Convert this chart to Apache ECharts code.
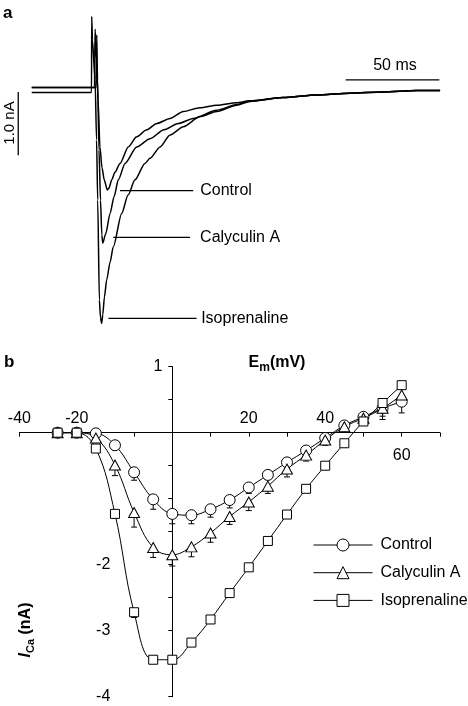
<!DOCTYPE html>
<html><head><meta charset="utf-8">
<script src="https://cdn.jsdelivr.net/npm/echarts/dist/echarts.min.js"></script>
<style>html,body{margin:0;padding:0;background:#fff}#c{width:468px;height:706px}</style>
</head><body><div id="c"></div>
<script>
// ---------- Panel a: current traces (time in ms, current in nA) ----------
const ctrlT = [-32, 1.5, 1.8, 2.6, 3.4, 4.4, 5.5, 6.7, 8.3, 9.2, 10.7, 12.4, 15.1, 19.5, 24.0, 29.4, 34.7, 41.8, 48.9, 57.8, 66.7, 77.4, 84.5, 102.1, 120.1, 137.8, 155.4, 173.4, 185.9];
const ctrlI = [0.04, 0.04, 0.96, 0.47, -0.16, -0.90, -1.23, -1.42, -1.58, -1.55, -1.42, -1.30, -1.16, -0.90, -0.74, -0.63, -0.53, -0.45, -0.34, -0.28, -0.24, -0.20, -0.17, -0.12, -0.08, -0.05, -0.03, -0.01, -0.01];
const calyT = [-32, 2.4, 2.7, 3.1, 3.9, 4.7, 5.4, 5.9, 7.5, 9.8, 11.9, 14.2, 17.8, 24.0, 31.1, 38.6, 46.2, 54.2, 66.7, 77.4, 84.5, 102.1, 120.1, 137.8, 155.4, 173.4, 185.9];
const calyI = [0.04, 0.04, 0.87, 0.16, -0.95, -1.74, -2.29, -2.42, -2.27, -1.95, -1.69, -1.42, -1.16, -0.90, -0.77, -0.63, -0.53, -0.45, -0.32, -0.23, -0.17, -0.12, -0.08, -0.05, -0.03, -0.01, -0.01];
const isoT = [-32, -0.1, 0.0, 0.4, 1.8, 2.6, 3.2, 4.1, 4.7, 5.3, 5.9, 6.8, 8.0, 9.8, 11.5, 16.0, 19.4, 23.1, 28.4, 31.1, 36.5, 41.8, 48.9, 57.8, 66.7, 77.4, 84.5, 102.1, 120.1, 137.8, 155.4, 173.4, 185.9];
const isoI = [-0.04, -0.04, 1.16, 0.79, 0.16, -0.79, -1.74, -3.32, -3.60, -3.69, -3.55, -3.27, -3.00, -2.72, -2.48, -1.95, -1.66, -1.42, -1.16, -1.08, -0.90, -0.71, -0.58, -0.42, -0.34, -0.24, -0.18, -0.12, -0.08, -0.05, -0.03, -0.01, -0.01];
// scale bars
const barTimeT = [135.5, 185.5];
const barTimeI = [0.16, 0.16];
const barCurT = [-39.2, -39.2];
const barCurI = [-0.03, -1.03];
// label leader lines
const leaderNames = ['Control', 'Calyculin A', 'Isoprenaline'];
const leaderT = [[15.1, 54.2], [11.5, 52.5], [8.9, 56.0]];
const leaderI = [-1.59, -2.33, -3.61];

// ---------- Panel b: I-V relationship ----------
const voltages = [-30, -25, -20, -15, -10, -5, 0, 5, 10, 15, 20, 25, 30, 35, 40, 45, 50, 55, 60];
const control = [0, 0, -0.01, -0.19, -0.60, -1.01, -1.23, -1.25, -1.16, -1.02, -0.83, -0.64, -0.45, -0.27, -0.08, 0.11, 0.24, 0.37, 0.47];
const calyculin = [0, 0, -0.08, -0.49, -1.21, -1.74, -1.85, -1.73, -1.52, -1.27, -1.05, -0.81, -0.55, -0.34, -0.11, 0.09, 0.22, 0.37, 0.57];
const isoprenaline = [0, 0, -0.24, -1.23, -2.72, -3.44, -3.44, -3.18, -2.83, -2.43, -2.04, -1.64, -1.24, -0.85, -0.50, -0.16, 0.17, 0.45, 0.72];
const controlErr = [0.02, 0.03, 0.03, 0.07, 0.12, 0.15, 0.15, 0.13, 0.12, 0.12, 0.09, 0.07, 0.06, 0.06, 0.05, 0.05, 0.06, 0.12, 0.17];
const calyculinErr = [0.02, 0.03, 0.06, 0.16, 0.22, 0.15, 0.17, 0.15, 0.14, 0.12, 0.13, 0.11, 0.12, 0.09, 0.08, 0.07, 0.06, 0.17, 0.15];
const isoprenalineErr = [0.02, 0.02, 0.06, 0.06, 0.08, 0.05, 0.05, 0.05, 0.05, 0.05, 0.05, 0.05, 0.05, 0.05, 0.04, 0.04, 0.04, 0.05, 0.05];
const xTickLabels = {'-40': '-40', '-20': '{l|-20}', '20': '20', '40': '40'};
const xTickLabelsLow = {'60': '60'};
const yTickLabels = {'1': '1', '-2': '{f|-2}', '-3': '{f|-3}', '-4': '{f|-4}'};

const FONT = '"Liberation Sans", Arial, Helvetica, sans-serif';
const zip = (a, b) => a.map((v, i) => [v, b[i]]);

const chart = echarts.init(document.getElementById('c'), null, {renderer: 'canvas'});

function traceSeries(name, T, I) {
  return {name, type: 'line', xAxisIndex: 0, yAxisIndex: 0, data: zip(T, I), showSymbol: false, symbol: 'none',
    smooth: 0.25, smoothMonotone: 'x',
    lineStyle: {color: '#000', width: 1.5}, silent: true, z: 3};
}
function errSeries(name, vals, errs) {
  return {name, type: 'custom', xAxisIndex: 1, yAxisIndex: 1, z: 1, silent: true,
    encode: {x: 0, y: 1},
    data: voltages.map((v, i) => [v, vals[i], vals[i] - errs[i]]),
    renderItem: (params, api) => {
      const p0 = api.coord([api.value(0), api.value(1)]);
      const p1 = api.coord([api.value(0), api.value(2)]);
      return {type: 'group', children: [
        {type: 'line', shape: {x1: p0[0], y1: p0[1], x2: p1[0], y2: p1[1]}, style: {stroke: '#000', lineWidth: 1}},
        {type: 'line', shape: {x1: p1[0] - 3, y1: p1[1], x2: p1[0] + 3, y2: p1[1]}, style: {stroke: '#000', lineWidth: 1}}
      ]};
    }};
}
function ivSeries(name, vals, symbol, size) {
  return {name, type: 'line', xAxisIndex: 1, yAxisIndex: 1, data: zip(voltages, vals), smooth: 0.4,
    symbol, symbolSize: size, showAllSymbol: true,
    itemStyle: {color: '#fff', borderColor: '#000', borderWidth: 1},
    lineStyle: {color: '#000', width: 1}, z: 2};
}

const series = [
  traceSeries('traceControl', ctrlT, ctrlI),
  traceSeries('traceCaly', calyT, calyI),
  traceSeries('traceIso', isoT, isoI),
  {name: 'barTime', type: 'line', xAxisIndex: 0, yAxisIndex: 0, data: zip(barTimeT, barTimeI), symbol: 'none', lineStyle: {color: '#000', width: 1.3}, silent: true},
  {name: 'barCur', type: 'line', xAxisIndex: 0, yAxisIndex: 0, data: zip(barCurT, barCurI), symbol: 'none', lineStyle: {color: '#000', width: 1.3}, silent: true},
];
const leaderLabelGap = [7, 10, 4.5];
leaderNames.forEach((n, k) => {
  series.push({name: 'leader' + k, type: 'line', xAxisIndex: 0, yAxisIndex: 0,
    data: leaderT[k].map(t => [t, leaderI[k]]), symbol: 'none', silent: true,
    lineStyle: {color: '#000', width: 1.2},
    endLabel: {show: true, formatter: n, distance: leaderLabelGap[k], color: '#000', fontSize: 16, fontFamily: FONT}});
});
series.push(errSeries('errC', control, controlErr));
series.push(errSeries('errA', calyculin, calyculinErr));
series.push(errSeries('errI', isoprenaline, isoprenalineErr));
series.push(ivSeries('Control', control, 'circle', 11));
series.push(ivSeries('Calyculin A', calyculin, 'triangle', [11, 10]));
series.push(ivSeries('Isoprenaline', isoprenaline, 'rect', 9));

const axisTextBase = {color: '#000', fontSize: 16, fontFamily: FONT};
const hiddenX = (g, min, max) => ({gridIndex: g, type: 'value', min, max, show: false});
const hiddenY = (g, min, max) => ({gridIndex: g, type: 'value', min, max, show: false});

// panel b geometry: x -40..70, y -4..1
const bLeft = 19.4, bWidth = 420.5, bTop = 366.7, bHeight = 330;
const pxPerMv = bWidth / 110, pxPerNa = bHeight / 5;

chart.setOption({
  animation: false,
  backgroundColor: '#fff',
  textStyle: {fontFamily: FONT},
  grid: [
    {left: 7.37, top: 7.7, width: 432.9, height: 322.8, outerBoundsMode: 'none', containLabel: false},
    {left: bLeft, top: bTop, width: bWidth, height: bHeight, outerBoundsMode: 'none', containLabel: false},
    {left: bLeft, top: bTop + pxPerNa, width: bWidth, height: 4 * pxPerNa, outerBoundsMode: 'none', containLabel: false},
    {left: bLeft, top: bTop, width: bWidth, height: pxPerNa, outerBoundsMode: 'none', containLabel: false},
    {left: bLeft + 40 * pxPerMv, top: bTop, width: 70 * pxPerMv, height: bHeight, outerBoundsMode: 'none', containLabel: false}
  ],
  xAxis: [
    hiddenX(0, -45, 186),
    hiddenX(1, -40, 70),
    {gridIndex: 2, type: 'value', min: -40, max: 70, interval: 10, position: 'top',
      axisLine: {show: true, onZero: false, lineStyle: {color: '#000', width: 1}},
      axisTick: {show: true, inside: true, length: 4, lineStyle: {color: '#000'}},
      splitLine: {show: false},
      axisLabel: Object.assign({}, axisTextBase, {margin: 6, showMinLabel: true, showMaxLabel: true,
        formatter: v => xTickLabels[String(v)] || '',
        rich: {l: Object.assign({}, axisTextBase, {padding: [0, 38, 0, 0]})}})},
    {gridIndex: 3, type: 'value', min: -40, max: 70, interval: 10, position: 'bottom',
      axisLine: {show: false, onZero: false}, axisTick: {show: false}, splitLine: {show: false},
      axisLabel: Object.assign({}, axisTextBase, {margin: 15, formatter: v => xTickLabelsLow[String(v)] || ''})},
    hiddenX(4, 0, 70)
  ],
  yAxis: [
    hiddenY(0, -3.8, 1.3),
    hiddenY(1, -4, 1),
    hiddenY(2, -4, 0),
    hiddenY(3, 0, 1),
    {gridIndex: 4, type: 'value', min: -4, max: 1, interval: 0.5, position: 'left',
      axisLine: {show: true, onZero: false, lineStyle: {color: '#000', width: 1}},
      axisTick: {show: true, length: 4, lineStyle: {color: '#000'}},
      splitLine: {show: false},
      axisLabel: Object.assign({}, axisTextBase, {margin: 10, showMinLabel: true, showMaxLabel: true,
        formatter: v => yTickLabels[String(v)] || '',
        rich: {f: Object.assign({}, axisTextBase, {padding: [0, 52, 0, 0]})}})}
  ],
  legend: {
    data: ['Control', 'Calyculin A', 'Isoprenaline'],
    orient: 'vertical', left: 313, top: 537, padding: 0, itemWidth: 59, itemHeight: 15, itemGap: 11.7,
    lineStyle: {width: 1, color: '#000'},
    itemStyle: {borderWidth: 1, borderColor: '#000', color: '#fff'},
    textStyle: {color: '#000', fontSize: 16, fontFamily: FONT, padding: [0, 0, 0, 3]},
    selectedMode: false
  },
  graphic: [
    {type: 'text', left: 3, top: 5, style: {text: 'a', font: 'bold 17px ' + FONT, fill: '#000'}},
    {type: 'text', left: 4, top: 354, style: {text: 'b', font: 'bold 17px ' + FONT, fill: '#000'}},
    {type: 'text', x: 395, y: 66, style: {text: '50 ms', font: '16px ' + FONT, fill: '#000', align: 'center', verticalAlign: 'middle'}},
    {type: 'text', x: 10, y: 123, rotation: Math.PI / 2, style: {text: '1.0 nA', font: '15px ' + FONT, fill: '#000', align: 'center', verticalAlign: 'middle'}},
    {type: 'text', x: 277, y: 374, style: {
      text: '{b|E}{s|m}{b|(mV)}', align: 'center', verticalAlign: 'bottom', fill: '#000',
      rich: {b: {fontSize: 16, fontWeight: 'bold', fontFamily: FONT, verticalAlign: 'bottom', padding: [0, 0, 3, 0]},
             s: {fontSize: 12, fontWeight: 'bold', fontFamily: FONT, verticalAlign: 'bottom'}}}},
    {type: 'text', x: 27, y: 630, rotation: Math.PI / 2, style: {
      text: '{i|I}{s|Ca}{b| (nA)}', align: 'center', verticalAlign: 'middle', fill: '#000',
      rich: {i: {fontSize: 16, fontWeight: 'bold', fontStyle: 'italic', fontFamily: FONT, verticalAlign: 'bottom', padding: [0, 0, 3, 0]},
             s: {fontSize: 11, fontWeight: 'bold', fontFamily: FONT, verticalAlign: 'bottom'},
             b: {fontSize: 16, fontWeight: 'bold', fontFamily: FONT, verticalAlign: 'bottom', padding: [0, 0, 3, 0]}}}}
  ],
  series
});
</script>
</body></html>
